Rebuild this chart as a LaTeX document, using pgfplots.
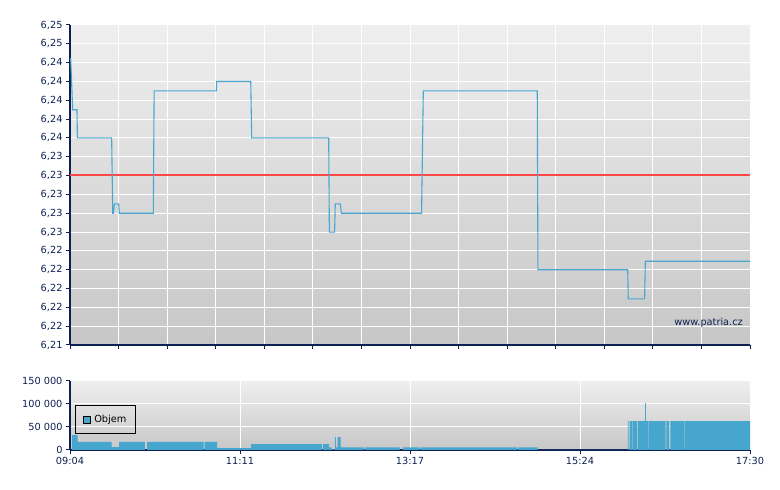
\documentclass[border=0pt]{standalone}
\usepackage{pgfplots}
\pgfplotsset{compat=1.18}
\usepackage{fontspec}
\setmainfont{DejaVu Sans}
\definecolor{navy}{RGB}{12,32,84}
\definecolor{pline}{RGB}{72,167,208}
\definecolor{vbar}{RGB}{71,166,206}
\definecolor{bgtop}{RGB}{239,239,239}
\definecolor{bgbot}{RGB}{199,199,199}
\begin{document}
\begin{tikzpicture}
\path[use as bounding box] (0,0) rectangle (780bp,490bp);
\pgfplotsset{
  common/.style={
    scale only axis, width=680bp, xmin=0, xmax=506,
    axis x line*=bottom, axis y line*=left,
    axis line style={navy, line width=1.4bp, -},
    tick align=outside, major tick length=4bp,
    tick style={navy, line width=1bp},
    grid=major, major grid style={white, line width=1bp},
    axis background/.style={shade, top color=bgtop, bottom color=bgbot, draw=none},
    ticklabel style={font=\fontsize{9.8}{11}\selectfont, text=navy},
    /pgf/number format/assume math mode=true,
    scaled y ticks=false, scaled x ticks=false,
  }
}
\begin{axis}[common, at={(70bp,145bp)}, anchor=south west, height=320bp,
  ymin=6.214, ymax=6.248,
  ytick={6.214,6.216,6.218,6.220,6.222,6.224,6.226,6.228,6.230,6.232,6.234,6.236,6.238,6.240,6.242,6.244,6.246,6.248},
  yticklabels={{6,21},{6,22},{6,22},{6,22},{6,22},{6,22},{6,23},{6,23},{6,23},{6,23},{6,23},{6,24},{6,24},{6,24},{6,24},{6,24},{6,25},{6,25}},
  xtick={0,36.142857,72.285714,108.428571,144.571429,180.714286,216.857143,253,289.142857,325.285714,361.428571,397.571429,433.714286,469.857143,506},
  xticklabels={},
]
\addplot[red!72!white, line width=2bp, no marks, forget plot] coordinates {(0,6.2321) (506,6.2321)};
\addplot[draw=pline, line width=1.1bp, no marks] coordinates {
(0.5,6.2445) (2.0,6.2390) (5.2,6.2390) (5.5,6.2360) (31.0,6.2360) (31.8,6.2280) (32.4,6.2280) (33.0,6.2290) (36.2,6.2290) (36.7,6.2280) (62.0,6.2280) (62.6,6.2410) (108.9,6.2410) (109.2,6.2420) (134.5,6.2420) (135.2,6.2360) (192.5,6.2360) (193.0,6.2260) (196.9,6.2260) (197.4,6.2290) (201.2,6.2290) (201.9,6.2280) (261.6,6.2280) (262.9,6.2410) (347.7,6.2410) (348.2,6.2220) (415.0,6.2220) (415.4,6.2189) (427.6,6.2189) (428.1,6.2229) (506,6.2229)
};
\node[anchor=east, text=navy, font=\fontsize{9.8}{11}\selectfont, inner sep=0pt] at (rel axis cs:0.9897,0.0697) {www.patria.cz};
\end{axis}
\begin{axis}[common, at={(70bp,40bp)}, anchor=south west, height=69bp,
  ymin=0, ymax=150000,
  ytick={0,50000,100000,150000},
  yticklabels={0,50 000,100 000,150 000},
  xtick={0,126.5,253,379.5,506},
  xticklabels={09:04,11:11,13:17,15:24,17:30},
  legend style={at={(rel axis cs:0.0078,0.652)}, anchor=north west, draw=black, line width=0.8bp, fill=none, font=\fontsize{9.8}{11}\selectfont, text=black, inner xsep=7bp, inner ysep=7.5bp, column sep=2bp},
  legend cell align=left,
]
\addplot[const plot, fill=vbar, draw=none, legend image code/.code={\draw[fill=vbar, draw=black, line width=0.6bp] (0bp,-3.5bp) rectangle (7bp,3.5bp);}] coordinates {
(1.5,32600) (5.7,17400) (31.0,6500) (36.5,17400) (55.8,0) (57.3,17400) (99.5,0) (100.2,17400) (109.4,4300) (134.7,13000) (187.5,0) (188.3,13000) (192.7,5800) (194.7,1500) (197.2,28000) (197.9,5800) (199.2,28000) (201.4,5800) (218.8,0) (219.7,5800) (245.3,0) (247.8,5800) (260.4,0) (261.2,5800) (332.6,0) (333.4,5800) (348.0,0) (415.2,63000) (415.7,0) (416.5,63000) (418.2,0) (418.7,63000) (421.9,0) (422.4,63000) (427.9,102000) (428.6,63000) (430.1,0) (430.6,63000) (443.3,0) (443.7,63000) (445.9,0) (446.7,63000) (456.9,0) (457.4,63000) (506,63000)
} \closedcycle;
\addlegendentry{Objem}
\end{axis}
\end{tikzpicture}
\end{document}
